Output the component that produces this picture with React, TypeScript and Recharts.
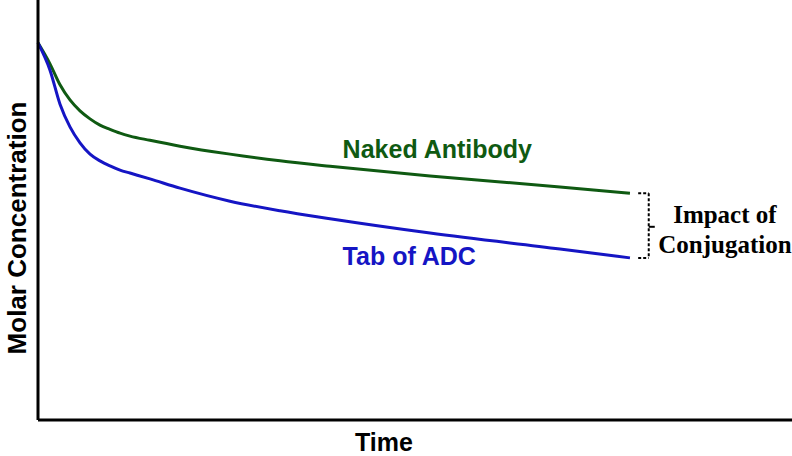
import React from 'react';
import { LineChart, Line, XAxis, YAxis, ReferenceDot, ReferenceLine } from 'recharts';

// time points (arbitrary units) and molar concentration (arbitrary units)
const time = [0, 1.59, 2.92, 4.24, 5.57, 6.9, 8.22, 9.55, 10.88, 12.2, 14.85, 18.83, 25.46, 32.1, 38.73, 51.99, 69.23, 78.51];
const nakedAntibody = [89.8, 84.8, 79.8, 76.2, 73.6, 71.7, 70.2, 69.2, 68.3, 67.6, 66.6, 65.2, 63.3, 61.7, 60.4, 58.1, 55.5, 54.0];
const tabOfAdc = [89.8, 83.3, 75.2, 69.8, 66.0, 63.3, 61.7, 60.5, 59.5, 58.8, 57.4, 55.2, 52.1, 49.8, 47.9, 44.5, 40.7, 38.6];

const data = time.map((t, i) => ({ t, naked: nakedAntibody[i], adc: tabOfAdc[i] }));

const GREEN = '#0f5a12';
const BLUE = '#1515c4';
const SANS = '"Liberation Sans", Arial, sans-serif';
const SERIF = '"Liberation Serif", "Times New Roman", serif';

const endNaked = nakedAntibody[nakedAntibody.length - 1];
const endAdc = tabOfAdc[tabOfAdc.length - 1];
const bracketL = 79.6;
const bracketR = 81;
const bracketTip = 81.8;
const bracketMid = 46;

const textAt = (label: string, color: string, family: string, anchor: string, size = 25) =>
    (props: any) => {
        const vb = props.viewBox || {};
        return (
            <text x={vb.x} y={vb.y} fill={color} fontFamily={family} fontWeight="bold" fontSize={size} textAnchor={anchor}>
                {label}
            </text>
        );
    };

export default function App() {
    return (
        <div style={{ position: 'absolute', left: 0, top: 0, width: 792, height: 456, background: '#fff' }}>
            <LineChart width={792} height={456} data={data} margin={{ top: 0, right: 0, left: 0, bottom: 0 }}>
                <XAxis
                    dataKey="t"
                    type="number"
                    domain={[0, 100]}
                    height={36}
                    tick={false}
                    tickLine={false}
                    axisLine={{ stroke: '#000', strokeWidth: 3 }}
                    label={{
                        content: (p: any) => (
                            <text x={384} y={p.viewBox.y + 31} textAnchor="middle" fontFamily={SANS} fontWeight="bold" fontSize={25} fill="#000">
                                Time
                            </text>
                        ),
                    }}
                />
                <YAxis
                    type="number"
                    domain={[0, 100]}
                    width={38}
                    tick={false}
                    tickLine={false}
                    axisLine={{ stroke: '#000', strokeWidth: 3 }}
                    label={{
                        content: () => (
                            <text x={26} y={228} transform="rotate(-90 26 228)" textAnchor="middle" fontFamily={SANS} fontWeight="bold" fontSize={26} fill="#000">
                                Molar Concentration
                            </text>
                        ),
                    }}
                />
                <Line type="monotone" dataKey="naked" stroke={GREEN} strokeWidth={3} dot={false} isAnimationActive={false} />
                <Line type="monotone" dataKey="adc" stroke={BLUE} strokeWidth={3} dot={false} isAnimationActive={false} />

                <ReferenceLine segment={[{ x: bracketL, y: endNaked }, { x: bracketR, y: endNaked }]} stroke="#000" strokeWidth={2} strokeDasharray="3 2" ifOverflow="visible" />
                <ReferenceLine segment={[{ x: bracketR, y: endNaked }, { x: bracketR, y: endAdc }]} stroke="#000" strokeWidth={2} strokeDasharray="3 2" ifOverflow="visible" />
                <ReferenceLine segment={[{ x: bracketL, y: endAdc }, { x: bracketR, y: endAdc }]} stroke="#000" strokeWidth={2} strokeDasharray="3 2" ifOverflow="visible" />
                <ReferenceLine segment={[{ x: bracketR, y: bracketMid }, { x: bracketTip, y: bracketMid }]} stroke="#000" strokeWidth={2} ifOverflow="visible" />

                <ReferenceDot x={40.4} y={62.4} r={0} ifOverflow="visible" label={{ content: textAt('Naked Antibody', GREEN, SANS, 'start') }} />
                <ReferenceDot x={40.4} y={36.9} r={0} ifOverflow="visible" label={{ content: textAt('Tab of ADC', BLUE, SANS, 'start') }} />
                <ReferenceDot x={91.1} y={46.9} r={0} ifOverflow="visible" label={{ content: textAt('Impact of', '#000', SERIF, 'middle', 25) }} />
                <ReferenceDot x={91.1} y={39.8} r={0} ifOverflow="visible" label={{ content: textAt('Conjugation', '#000', SERIF, 'middle', 25) }} />
            </LineChart>
        </div>
    );
}
